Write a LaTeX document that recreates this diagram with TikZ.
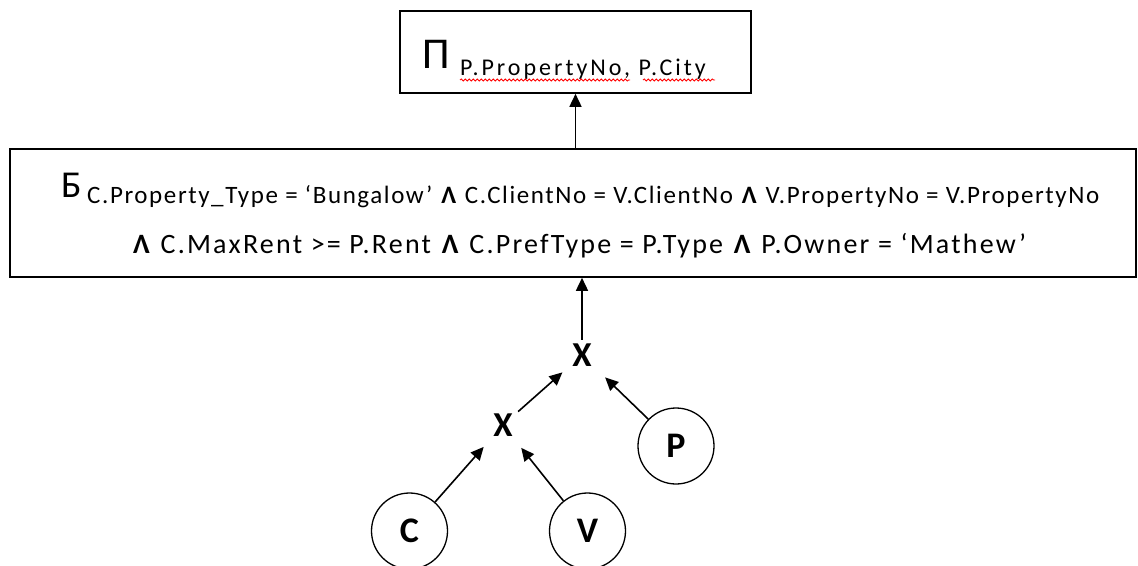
\documentclass[tikz,border=0pt]{standalone}
\usepackage{fontspec}
\setmainfont{Carlito}
\usetikzlibrary{arrows.meta,decorations.pathmorphing}
\tikzset{
  opbox/.style={draw=black, line width=1.6pt, inner sep=0pt},
  txt/.style={inner sep=0pt, anchor=base west},
  rel/.style={draw=black, line width=1.3pt, circle, minimum size=76pt, inner sep=0pt,
              font=\fontsize{36}{36}\selectfont\bfseries},
  cross/.style={circle, minimum size=58pt, inner sep=0pt,
              font=\fontsize{35}{35}\selectfont\bfseries},
  arr/.style={line width=1.6pt, -{Triangle[length=13pt,width=12pt]}},
  wave/.style={draw=red, line width=0.8pt, decorate,
              decoration={snake, amplitude=1.1pt, segment length=4pt}}
}
\begin{document}
\begin{tikzpicture}[x=1pt,y=-1pt]
\useasboundingbox (0,0) rectangle (1138,565);
% projection box
\node[opbox, minimum width=351pt, minimum height=82pt] (proj) at (575.5,52) {};
\node[txt, font=\fontsize{44}{44}\selectfont] (pi) at (422,68) {Π};
\node[txt, font=\fontsize{24}{24}\selectfont\addfontfeature{LetterSpace=12.5}] (projattr) at (460,75) {P.PropertyNo, P.City};
\draw[wave] (460,80) -- (630,80);
\draw[wave] (643,80) -- (715,80);
% selection box
\node[opbox, minimum width=1126pt, minimum height=128pt] (sel) at (573,213) {};
\node[txt, font=\fontsize{38}{38}\selectfont] (sigma) at (61,197) {Б};
\node[txt, font=\fontsize{25}{25}\selectfont\addfontfeature{LetterSpace=6.4}] (cond1) at (87,203)
  {C.Property\_Type = ‘Bungalow’ \textbf{Λ} C.ClientNo = V.ClientNo \textbf{Λ} V.PropertyNo = V.PropertyNo};
\node[txt, font=\fontsize{28}{28}\selectfont\addfontfeature{LetterSpace=8}] (cond2) at (133,253)
  {\textbf{Λ} C.MaxRent >= P.Rent \textbf{Λ} C.PrefType = P.Type \textbf{Λ} P.Owner = ‘Mathew’};
% tree
\node[cross] (x1) at (582,355) {X};
\node[cross] (x2) at (503,425) {X};
\node[rel] (C) at (409.5,531) {C};
\node[rel] (V) at (587.5,531) {V};
\node[rel] (P) at (676,446) {P};
\draw[arr] (C) -- (x2);
\draw[arr] (V) -- (x2);
\draw[arr, shorten <=-9pt, shorten >=-3pt] (x2) -- (x1);
\draw[arr, shorten >=3pt] (P) -- (x1);
\draw[arr, shorten <=-14pt] (x1.north) -- (x1.north |- sel.south);
\draw[arr] (proj.south |- sel.north) -- (proj.south);
\end{tikzpicture}
\end{document}
